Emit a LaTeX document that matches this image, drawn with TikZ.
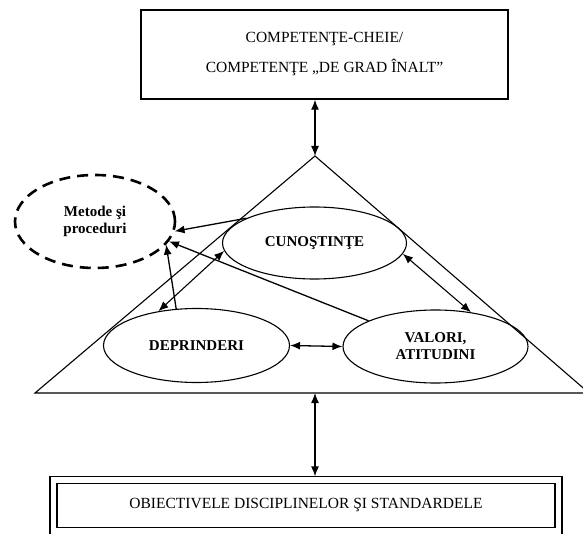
\documentclass[tikz,border=0pt]{standalone}
\usepackage{fontspec}
\setmainfont{Liberation Serif}
\usetikzlibrary{shapes.geometric,arrows.meta}
\tikzset{
    blob/.style={ellipse, draw, align=center, inner sep=0pt,
        font=\fontsize{15}{17}\selectfont\bfseries},
    frame/.style={draw, line width=1.4pt, align=center,
        font=\fontsize{15.5}{30}\selectfont},
    twoline/.style={draw, double, double distance=5.8pt, line width=1.2pt,
        font=\fontsize{15.5}{17}\selectfont}
}
\begin{document}
\begin{tikzpicture}[x=1pt, y=-1pt, line width=1.1pt,
        >={Latex[length=10pt,width=8pt]}]
    \useasboundingbox (0,0) rectangle (583,534);
    % boxes
    \node[frame, minimum width=367pt, minimum height=89pt] (top) at (324.5,54.5)
        {COMPETENŢE-CHEIE/\\COMPETENŢE „DE GRAD ÎNALT”};
    \node[twoline, minimum width=505pt, minimum height=51pt] (obj) at (306,505.5)
        {OBIECTIVELE DISCIPLINELOR ŞI STANDARDELE};
    % triangle
    \coordinate (apex) at (315,156);
    \coordinate (basemid) at (315,393);
    \draw (apex) -- (589,393) -- (35,393) -- cycle;
    % ellipses
    \node[blob, minimum width=184pt, minimum height=72pt] (cun) at (314.5,243) {CUNOŞTINŢE};
    \node[blob, minimum width=186pt, minimum height=74pt] (dep) at (196.5,345.5) {DEPRINDERI};
    \node[blob, minimum width=185pt, minimum height=73pt] (val) at (435.5,346.5) {VALORI,\\ATITUDINI};
    \node[blob, line width=2.6pt, dash pattern=on 11pt off 7pt,
        minimum width=160pt, minimum height=93pt] (met) at (95,221.5) {Metode şi\\proceduri};
    % connectors
    \draw[<->, line width=1.3pt] (top.south -| apex) -- (apex);
    \draw[<->, line width=1.3pt, shorten >=3pt] (basemid) -- (basemid |- obj.north);
    \draw[->, line width=1.3pt] (cun.160) -- (met.-7);
    \draw[->, line width=1.3pt] (dep.119) -- (met.-18);
    \draw[->, line width=1.3pt] (val.159) -- (met.-15);
    \draw[<->] (cun.185) -- (dep.138);
    \draw[<->] (cun.-7) -- (val.44);
    \draw[<->, line width=1.3pt] (dep.east) -- (val.west);
\end{tikzpicture}
\end{document}
